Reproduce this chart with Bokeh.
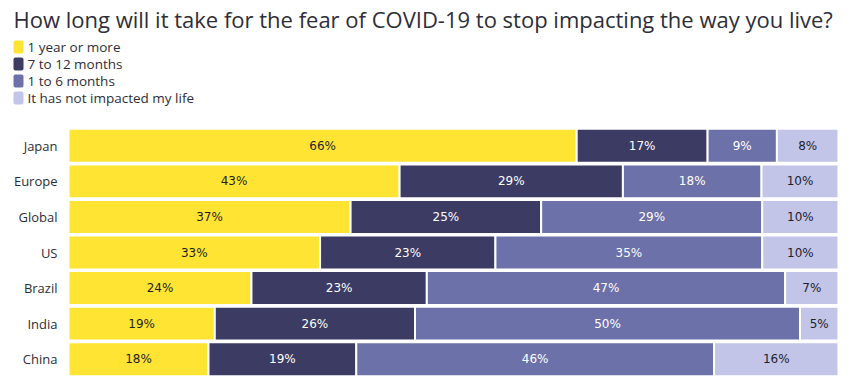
import numpy as np
from bokeh.plotting import figure
from bokeh.layouts import column
from bokeh.models import ColumnDataSource, FactorRange, Range1d, Label
from bokeh.core.properties import value
from bokeh.embed import file_html
from bokeh.resources import INLINE

title_text = "How long will it take for the fear of COVID-19 to stop impacting the way you live?"
countries = ["Japan", "Europe", "Global", "US", "Brazil", "India", "China"]
series_names = ["1 year or more", "7 to 12 months", "1 to 6 months", "It has not impacted my life"]
year_plus = [66, 43, 37, 33, 24, 19, 18]
months_7_12 = [17, 29, 25, 23, 23, 26, 19]
months_1_6 = [9, 18, 29, 35, 47, 50, 46]
not_impacted = [8, 10, 10, 10, 7, 5, 16]

colors = ["#FFE433", "#3B3B63", "#6C71A9", "#C2C4E8"]
label_colors = ["#1f1f28", "#ffffff", "#ffffff", "#1f1f28"]
text_color = "#2e2e38"
font = "Open Sans"

W = 846
H_TITLE = 34
H_HEAD = 86
H_MAIN = 264
BAR_LEFT, BAR_RIGHT = 68, 838

series = [year_plus, months_7_12, months_1_6, not_impacted]
arr = np.array(series, dtype=float)
norm = arr / arr.sum(axis=0)
keys = ["s0", "s1", "s2", "s3"]
data = {"country": countries}
for k, row in zip(keys, norm):
    data[k] = list(row)
src = ColumnDataSource(data)


def bare(fig):
    fig.outline_line_color = None
    fig.xgrid.visible = False
    fig.ygrid.visible = False
    return fig


# ---- title ----
top = bare(figure(width=W, height=H_TITLE, output_backend="svg", toolbar_location=None,
                  x_axis_location=None, y_axis_location=None,
                  x_range=Range1d(0, 1), y_range=Range1d(0, 1),
                  min_border_left=0, min_border_right=0, min_border_top=0, min_border_bottom=0))
top.add_layout(Label(x=13, y=H_TITLE - 18.5, x_units="screen", y_units="screen", text=title_text,
                     text_font=font, text_font_size="22px", text_baseline="alphabetic",
                     text_align="left", text_color=text_color))

# ---- legend ----
head = bare(figure(width=W, height=H_HEAD, output_backend="svg", toolbar_location=None,
                   x_axis_location=None, y_axis_location=None,
                   x_range=Range1d(0, W), y_range=FactorRange(factors=list(reversed(series_names))),
                   min_border_left=0, min_border_right=0, min_border_top=4, min_border_bottom=14))
head.rect(x=18, y=series_names, width=10, height=13, width_units="screen", height_units="screen",
          fill_color=colors, line_color=None, border_radius=2)
head.text(x=27, y=series_names, text=series_names, text_baseline="middle", text_align="left",
          text_font=value(font), text_font_size="13.5px", text_color=text_color)

# ---- bars ----
span = BAR_RIGHT - BAR_LEFT
p = bare(figure(width=W, height=H_MAIN, output_backend="svg", toolbar_location=None,
                x_axis_location=None, y_axis_location=None,
                y_range=FactorRange(factors=list(reversed(countries)), range_padding=0.211,
                                    range_padding_units="absolute"),
                x_range=Range1d(-BAR_LEFT / span, 1 + (W - BAR_RIGHT) / span),
                min_border_left=0, min_border_right=0, min_border_top=0, min_border_bottom=0))

p.hbar_stack(keys, y="country", height=0.955, fill_color=colors,
             line_color="white", line_width=2, source=src)

p.text(x=0, y=countries, text=countries, x_offset=-11, text_align="right", text_baseline="middle",
       text_font=value(font), text_font_size="13px", text_color=text_color)

left = np.zeros(len(countries))
for i, row in enumerate(norm):
    centers = left + row / 2
    p.text(x=list(centers), y=countries, text=[f"{v}%" for v in series[i]],
           text_align="center", text_baseline="middle",
           text_font=value("DejaVu Sans"), text_font_size="12px",
           text_color=label_colors[i])
    left = left + row

layout = column(top, head, p, spacing=0)
open("out.html", "w").write(file_html(layout, INLINE))
